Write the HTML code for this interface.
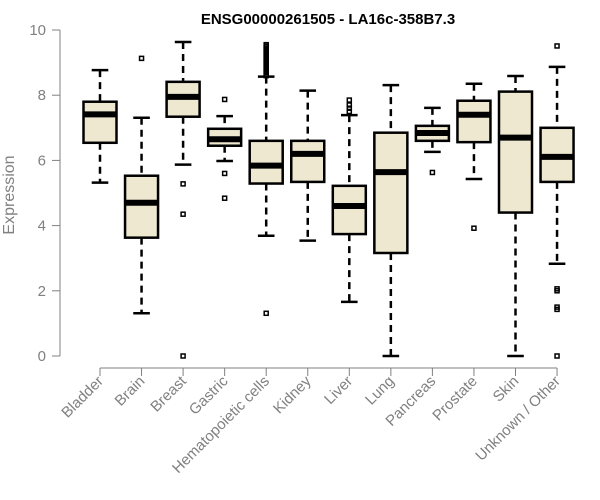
<!DOCTYPE html>
<html><head><meta charset="utf-8"><style>
body{margin:0;background:#fff;}
svg{display:block;font-family:"Liberation Sans",Arial,sans-serif;}
</style></head><body>
<svg id="chart" width="600" height="500">
<text x="328" y="24" text-anchor="middle" font-weight="bold" font-size="15">ENSG00000261505 - LA16c-358B7.3</text>
<text transform="translate(14,195) rotate(-90)" text-anchor="middle" font-size="16" fill="#808080">Expression</text>
<g id="yaxis"></g>
<g id="xaxis"></g>
<g id="boxes"></g>
</svg>
<script>
const categories=["Bladder","Brain","Breast","Gastric","Hematopoietic cells","Kidney","Liver","Lung","Pancreas","Prostate","Skin","Unknown / Other"];
const whiskerLow=[5.32,1.31,5.87,5.98,3.69,3.54,1.66,0,6.26,5.43,0,2.83];
const q1=[6.54,3.63,7.34,6.45,5.29,5.34,3.74,3.16,6.6,6.56,4.40,5.34];
const medians=[7.41,4.70,7.95,6.65,5.84,6.2,4.6,5.64,6.84,7.40,6.70,6.11];
const q3=[7.80,5.53,8.41,6.97,6.60,6.60,5.22,6.85,7.06,7.83,8.11,7.0];
const whiskerHigh=[8.77,7.31,9.63,7.36,8.57,8.14,7.39,8.31,7.61,8.35,8.59,8.87];
const outliers=[[],[9.13],[5.28,4.35,0],[7.87,5.6,4.84],[1.31,8.6,8.65,8.7,8.75,8.8,8.85,8.9,8.95,9.0,9.05,9.1,9.15,9.2,9.25,9.3,9.35,9.4,9.45,9.5,9.55],[],[7.5,7.6,7.7,7.85],[],[5.63],[3.92],[],[9.51,2.06,2.0,1.5,1.43,0]];
const yTicks=[0,2,4,6,8,10];
const NS="http://www.w3.org/2000/svg";
const y=v=>356-v*32.6;
const x=i=>100+i*41.55;
function mk(tag,attrs,parent){const e=document.createElementNS(NS,tag);for(const k in attrs)e.setAttribute(k,attrs[k]);parent.appendChild(e);return e;}
const ya=document.getElementById('yaxis'),xa=document.getElementById('xaxis'),bx=document.getElementById('boxes');
mk('line',{x1:60,x2:60,y1:y(0),y2:y(10),stroke:'#808080'},ya);
yTicks.forEach(t=>{
 const l=mk('line',{x1:52,x2:60,y1:y(t),y2:y(t),stroke:'#808080'},ya);
 
 
 const tx=mk('text',{x:46,y:y(t)+5,'text-anchor':'end','font-size':15,fill:'#808080'},ya);
 tx.textContent=t;
 
 
});
mk('line',{x1:x(0),x2:x(categories.length-1),y1:368,y2:368,stroke:'#808080'},xa);
categories.forEach((c,i)=>{
 const cx=x(i);
 const t=mk('line',{x1:cx,x2:cx,y1:368,y2:376,stroke:'#808080'},xa);
 
 
 const tx=mk('text',{transform:`translate(${cx+4},${382}) rotate(-45)`,'text-anchor':'end','font-size':15,fill:'#808080'},xa);
 tx.textContent=c;
 
 
 const g=mk('g',{},bx);
 
 
 const hw=16.5,cw=8.3;
 mk('line',{x1:cx,x2:cx,y1:y(whiskerHigh[i]),y2:y(q3[i]),stroke:'#000','stroke-width':2.5,'stroke-dasharray':'7,5'},g);
 mk('line',{x1:cx,x2:cx,y1:y(q1[i]),y2:y(whiskerLow[i]),stroke:'#000','stroke-width':2.5,'stroke-dasharray':'7,5'},g);
 mk('line',{x1:cx-cw,x2:cx+cw,y1:y(whiskerHigh[i]),y2:y(whiskerHigh[i]),stroke:'#000','stroke-width':2.5},g);
 mk('line',{x1:cx-cw,x2:cx+cw,y1:y(whiskerLow[i]),y2:y(whiskerLow[i]),stroke:'#000','stroke-width':2.5},g);
 mk('rect',{x:cx-hw,y:y(q3[i]),width:2*hw,height:y(q1[i])-y(q3[i]),fill:'#EDE8CF',stroke:'#000','stroke-width':2.5},g);
 mk('line',{x1:cx-hw,x2:cx+hw,y1:y(medians[i]),y2:y(medians[i]),stroke:'#000','stroke-width':6},g);
 outliers[i].forEach(o=>{
  const p=mk('rect',{x:cx-2,y:y(o)-2,width:4,height:4,fill:'none',stroke:'#000','stroke-width':1.5},g);
  
  
 });
});
</script>
</body></html>
